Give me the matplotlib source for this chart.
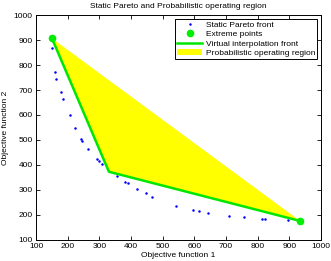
import matplotlib
matplotlib.use('Agg')
import matplotlib.pyplot as plt

plt.rcParams['font.family'] = ['Liberation Sans', 'DejaVu Sans']

# static pareto front
pareto_f1 = [150, 160, 163, 179, 186, 207, 224, 242, 246, 265, 293, 300, 309,
             354, 380, 389, 420, 446, 467, 542, 596, 613, 643, 708, 756, 814,
             824, 894]
pareto_f2 = [867, 773, 745, 693, 665, 601, 549, 503, 496, 463, 424, 416, 404,
             357, 333, 328, 305, 288, 273, 236, 219, 215, 207, 197, 191, 185,
             184, 180]

extreme_f1 = [150, 934]
extreme_f2 = [907, 176]

# virtual interpolation front
front_f1 = [150, 330, 934]
front_f2 = [907, 373, 176]

fig = plt.figure(figsize=(3.31, 2.61), dpi=100)
ax = fig.add_axes([0.109, 0.0805, 0.861, 0.862])

ax.fill(front_f1, front_f2, color='#ffff00', lw=0, zorder=1,
        label='Probabilistic operating region')
ax.plot(pareto_f1, pareto_f2, '.', color='#0000ff', ms=1.6, zorder=2,
        label='Static Pareto front')
ax.plot(extreme_f1, extreme_f2, 'o', color='#00ee00', ms=4.5, zorder=4,
        label='Extreme points')
ax.plot(front_f1, front_f2, '-', color='#00e600', lw=1.8, zorder=3,
        label='Virtual interpolation front')

ax.set_xlim(100, 1000)
ax.set_ylim(100, 1000)
ax.set_xticks(range(100, 1001, 100))
ax.set_yticks(range(100, 1001, 100))
ax.tick_params(direction='in', top=True, right=True, labelsize=6, length=3,
               width=0.6, pad=2.5)
for s in ax.spines.values():
    s.set_linewidth(0.7)

ax.set_xlabel('Objective function 1', fontsize=6, labelpad=1)
ax.set_ylabel('Objective function 2', fontsize=6, labelpad=3)
ax.set_title('Static Pareto and Probabilistic operating region', fontsize=6, pad=5)

h, l = ax.get_legend_handles_labels()
order = [1, 2, 3, 0]
leg = ax.legend([h[i] for i in order], [l[i] for i in order], loc='upper right',
                fontsize=6, fancybox=False, edgecolor='black', framealpha=1,
                borderaxespad=0.45, handlelength=3.0, handletextpad=0.4,
                labelspacing=0.2, borderpad=0.25)
leg.get_frame().set_linewidth(0.7)

fig.savefig('out.png', dpi=100)
